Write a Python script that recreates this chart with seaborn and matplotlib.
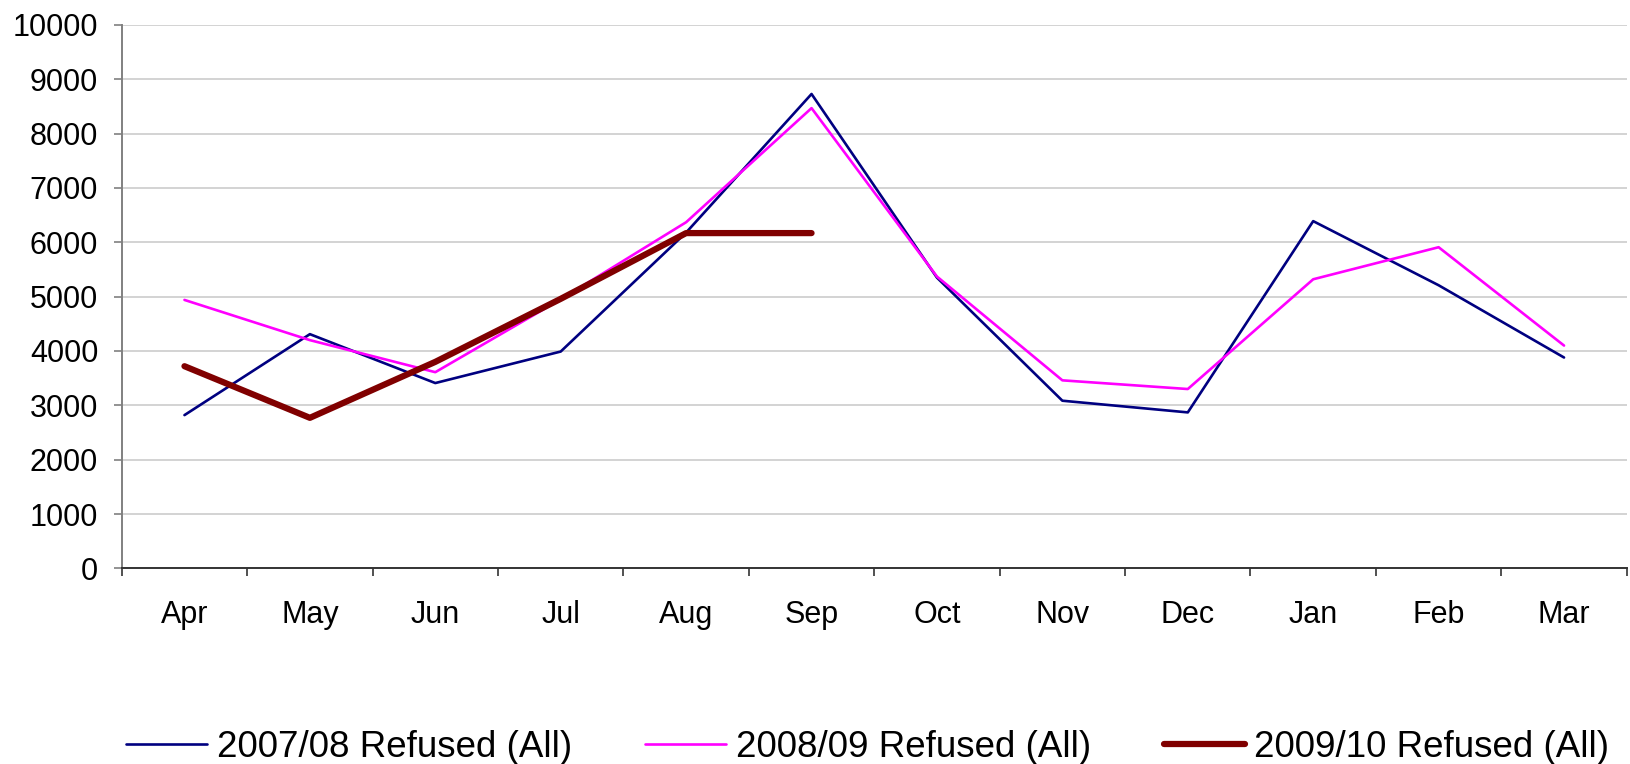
import pandas as pd
import matplotlib
matplotlib.use("Agg")
import matplotlib.pyplot as plt
import seaborn as sns

# Monatswerte
monate = ['Apr', 'May', 'Jun', 'Jul', 'Aug', 'Sep', 'Oct', 'Nov', 'Dec', 'Jan', 'Feb', 'Mar']
refused_0708 = [2820, 4310, 3410, 3990, 6180, 8730, 5350, 3085, 2870, 6390, 5210, 3880]
refused_0809 = [4940, 4200, 3610, 4950, 6370, 8470, 5370, 3460, 3300, 5320, 5910, 4100]
refused_0910 = [3720, 2770, 3800, 4960, 6170, 6170, None, None, None, None, None, None]

serien = ['2007/08 Refused (All)', '2008/09 Refused (All)', '2009/10 Refused (All)']
farben = ['#000080', '#FF00FF', '#800000']
breiten = [1.9, 1.9, 4.5]

df = pd.DataFrame({
    'pos': list(range(len(monate))) * 3,
    'monat': monate * 3,
    'wert': refused_0708 + refused_0809 + refused_0910,
    'serie': [s for s in serien for _ in monate],
})
df['wert'] = pd.to_numeric(df['wert'])

sns.set_style('white')
plt.rcParams['font.family'] = ['Liberation Sans', 'DejaVu Sans']
plt.rcParams['text.color'] = 'black'

fig = plt.figure(figsize=(16.3, 7.64), dpi=100)
ax = fig.add_axes([0.0747, 0.2561, 0.9233, 0.7112])

for serie, farbe, breite in zip(serien, farben, breiten):
    teil = df[df.serie == serie].dropna()
    sns.lineplot(data=teil, x='pos', y='wert', color=farbe, linewidth=breite,
                 label=serie, ax=ax, legend=False, solid_capstyle='round')

ax.set_xlim(-0.5, len(monate) - 0.5)
ax.set_ylim(0, 10000)
ax.set_yticks(range(0, 10001, 1000))
ax.set_xticks([i - 0.5 for i in range(len(monate) + 1)])
ax.set_xticklabels([])
ax.set_xticks(range(len(monate)), minor=True)
ax.set_xticklabels(monate, minor=True)
ax.set_xlabel('')
ax.set_ylabel('')

ax.yaxis.grid(True, color='#C8C8C8', linewidth=1.1)
ax.set_axisbelow(True)
for s in ['top', 'right']:
    ax.spines[s].set_visible(False)
ax.spines['left'].set_color('#808080')
ax.spines['left'].set_linewidth(1.4)
ax.spines['bottom'].set_color('#333333')
ax.spines['bottom'].set_linewidth(1.4)

ax.tick_params(axis='y', which='major', direction='out', length=6, width=1.2,
               color='#808080', labelsize=22, pad=11, left=True, labelcolor='black')
ax.tick_params(axis='x', which='major', direction='out', length=6, width=1.2,
               color='#333333', bottom=True)
ax.tick_params(axis='x', which='minor', length=0, labelsize=22, pad=23,
               labelcolor='black')

handles, labels = ax.get_legend_handles_labels()
fig.legend(handles, labels, loc='center', bbox_to_anchor=(0.5325, 0.022), ncol=3,
           frameon=False, fontsize=26.5, handlelength=2.2, handletextpad=0.25,
           columnspacing=2.0, labelcolor='black')

fig.savefig('out.png', dpi=100)
